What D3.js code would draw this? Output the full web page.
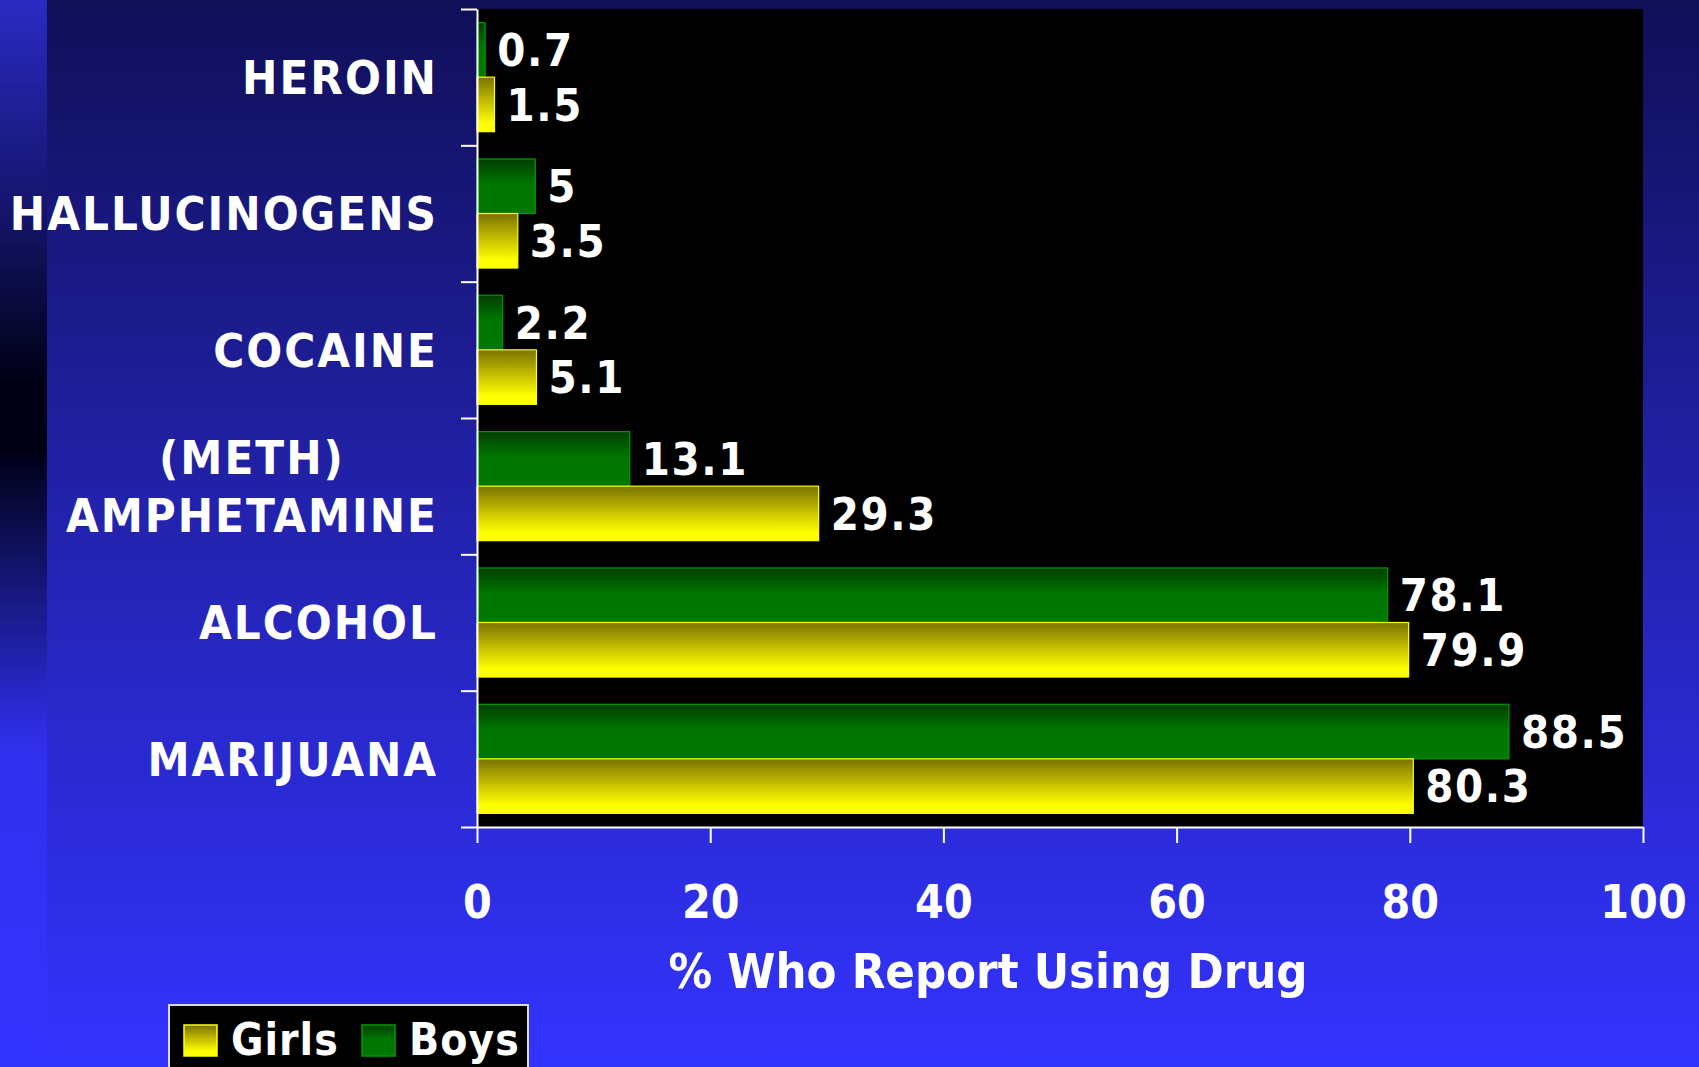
<!DOCTYPE html>
<html>
<head>
<meta charset="utf-8">
<script src="https://cdn.jsdelivr.net/npm/d3@7"></script>
<style>
  body { margin: 0; background: #3333ff; overflow: hidden; }
  text { font-family: "DejaVu Sans Condensed", "DejaVu Sans", sans-serif; font-weight: bold; fill: #fff; }
</style>
</head>
<body>
<svg id="chart"></svg>
<script>
// data
var drugs = ["HEROIN", "HALLUCINOGENS", "COCAINE", "(METH)\nAMPHETAMINE", "ALCOHOL", "MARIJUANA"];
var boys = [0.7, 5, 2.2, 13.1, 78.1, 88.5];
var girls = [1.5, 3.5, 5.1, 29.3, 79.9, 80.3];
var xTicks = [0, 20, 40, 60, 80, 100];
var barOrder = ["Boys", "Girls"];   // top to bottom inside each group
var legendOrder = ["Girls", "Boys"];
var axisTitle = "% Who Report Using Drug";

var W = 1699, H = 1067;
var margin = {top: 9, right: 56, bottom: 240, left: 477},
    width = W - margin.left - margin.right,
    height = H - margin.top - margin.bottom;

var svg = d3.select('#chart').attr('width', W).attr('height', H);
var defs = svg.append('defs');

function grad(id, stops) {
  var g = defs.append('linearGradient').attr('id', id)
    .attr('x1', 0).attr('y1', 0).attr('x2', 0).attr('y2', 1);
  stops.forEach(function(s){ g.append('stop').attr('offset', s[0]).attr('stop-color', s[1]); });
}
grad('bgMain', [[0, '#100f58'], [0.5, '#2323b0'], [1, '#3333ff']]);
grad('bgStrip', [[0, '#2a2ac4'], [0.2, '#14146a'], [0.36, '#000014'], [0.42, '#000014'], [0.55, '#16167a'], [0.7, '#3030ee'], [1, '#3333ff']]);
grad('gBoys', [[0, '#003d00'], [0.45, '#007500'], [1, '#007800']]);
grad('gGirls', [[0, '#7a7200'], [0.45, '#c4bd00'], [0.85, '#ffff00'], [1, '#ffff00']]);

var fill = {Boys: 'url(#gBoys)', Girls: 'url(#gGirls)'};
var stroke = {Boys: '#009a00', Girls: '#ffff00'};
var values = {Boys: boys, Girls: girls};

// background
svg.append('rect').attr('width', W).attr('height', H).attr('fill', 'url(#bgMain)');
svg.append('rect').attr('width', 47).attr('height', H).attr('fill', 'url(#bgStrip)');

var chartGroup = svg.append('g').attr('transform', 'translate(' + margin.left + ',' + margin.top + ')');
chartGroup.append('rect').attr('width', width).attr('height', height).attr('fill', '#000');

var x = d3.scaleLinear().domain([0, 100]).range([0, width]);
var y = d3.scaleBand().domain(drugs).range([0, height]);
var y1 = d3.scaleBand().domain(barOrder).range([0, y.bandwidth()]).paddingOuter(0.25);
var yEdge = d3.scaleLinear().domain([0, drugs.length]).range([0, height]);

// bars
var rows = drugs.map(function(d, i){
  return barOrder.map(function(s){ return {drug: d, series: s, value: values[s][i]}; });
});
var grp = chartGroup.selectAll('.grp').data(rows).enter().append('g')
  .attr('class', 'grp')
  .attr('transform', function(r){ return 'translate(0,' + y(r[0].drug) + ')'; });

grp.selectAll('rect').data(function(r){ return r; }).enter().append('rect')
  .attr('x', 0)
  .attr('y', function(d){ return y1(d.series); })
  .attr('width', function(d){ return x(d.value); })
  .attr('height', y1.bandwidth())
  .attr('fill', function(d){ return fill[d.series]; })
  .attr('stroke', function(d){ return stroke[d.series]; })
  .attr('stroke-width', 1.2);

grp.selectAll('text').data(function(r){ return r; }).enter().append('text')
  .attr('x', function(d){ return x(d.value) + 12; })
  .attr('y', function(d){ return y1(d.series) + y1.bandwidth() / 2; })
  .attr('dy', '0.36em')
  .style('font-size', '45px')
  .style('letter-spacing', '1.6px')
  .text(function(d){ return d.value; });

// axes
var xAxis = d3.axisBottom(x).tickValues(xTicks).tickSize(16).tickSizeOuter(0).tickPadding(42);
var yAxis = d3.axisLeft(yEdge).tickValues(d3.range(drugs.length + 1)).tickFormat('').tickSize(16).tickSizeOuter(0);

var gx = chartGroup.append('g').attr('transform', 'translate(0,' + height + ')').call(xAxis);
var gy = chartGroup.append('g').call(yAxis);
[gx, gy].forEach(function(g){
  g.selectAll('path, line').attr('stroke', '#fff').attr('stroke-width', 2);
});
gx.selectAll('text').attr('fill', '#fff').style('font-size', '46px')
  .style('font-family', '"DejaVu Sans Condensed", "DejaVu Sans", sans-serif').style('font-weight', 'bold');

// category labels, multi-line labels centred as a block, right edge fixed
var lineH = 58;
drugs.forEach(function(d){
  var lines = d.split('\n');
  var t = svg.append('text').attr('text-anchor', 'middle')
    .style('font-size', '47px').style('letter-spacing', '2px');
  lines.forEach(function(l, i){
    t.append('tspan').attr('x', 0).attr('y', (i - (lines.length - 1) / 2) * lineH).attr('dy', '0.36em').text(l);
  });
  var w = t.node().getBBox().width;
  t.attr('transform', 'translate(' + (438 - w / 2) + ',' + (margin.top + y(d) + y.bandwidth() / 2) + ')');
});

// axis title
svg.append('text').attr('x', 988).attr('y', 988).attr('text-anchor', 'middle')
  .style('font-size', '48.5px').text(axisTitle);

// legend
var legend = svg.append('g').attr('transform', 'translate(169,1005)');
legend.append('rect').attr('width', 359).attr('height', 80).attr('fill', '#000')
  .attr('stroke', '#d8d8e8').attr('stroke-width', 2);
var item = legend.selectAll('.item').data(legendOrder).enter().append('g')
  .attr('transform', function(d, i){ return 'translate(' + (15 + i * 178) + ',0)'; });
item.append('rect').attr('y', 20).attr('width', 33).attr('height', 31)
  .attr('fill', function(d){ return fill[d]; })
  .attr('stroke', function(d){ return stroke[d]; }).attr('stroke-width', 1.5);
item.append('text').attr('x', 47).attr('y', 50).style('font-size', '44px')
  .style('letter-spacing', '1px').text(function(d){ return d; });
</script>
</body>
</html>
